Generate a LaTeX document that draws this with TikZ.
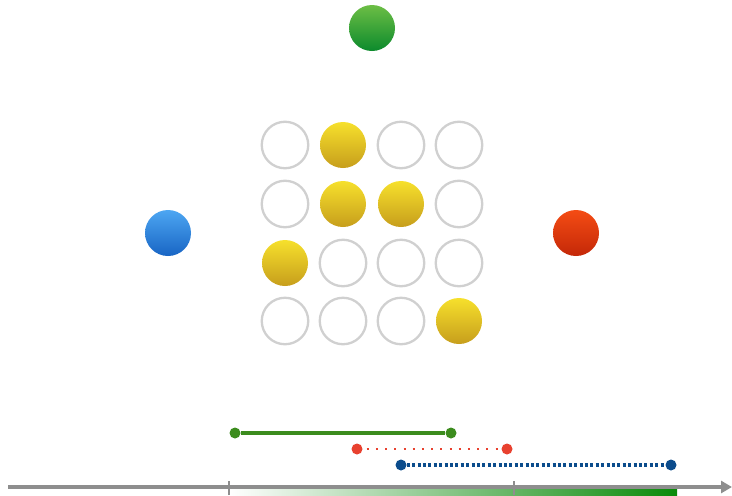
\documentclass[tikz,border=0pt]{standalone}
\usetikzlibrary{arrows.meta}
\definecolor{yelTop}{HTML}{F6E02C}
\definecolor{yelBot}{HTML}{C79E1C}
\definecolor{grnTop}{HTML}{6CBE45}
\definecolor{grnBot}{HTML}{0C8A2C}
\definecolor{bluTop}{HTML}{4DA6F2}
\definecolor{bluBot}{HTML}{1865C4}
\definecolor{redTop}{HTML}{F44C14}
\definecolor{redBot}{HTML}{C42808}
\definecolor{ringGray}{HTML}{D0D0D0}
\definecolor{axisGray}{HTML}{8E8E8E}
\definecolor{segGreen}{HTML}{3C8C1E}
\definecolor{segRed}{HTML}{E8412F}
\definecolor{segBlue}{HTML}{0B4C8C}
\definecolor{barGreen}{HTML}{0A8A0A}
\tikzset{
  ball/.style={circle, minimum size=46pt, inner sep=0pt},
  yball/.style={ball, top color=yelTop, bottom color=yelBot},
  ring/.style={ball, draw=ringGray, line width=2.3pt, fill=white, minimum size=46.5pt},
  enddot/.style={circle, minimum size=11pt, inner sep=0pt},
}
\begin{document}
\begin{tikzpicture}[x=1pt,y=-1pt]
\useasboundingbox (0,0) rectangle (732,496);
% outer balls
\node[ball, top color=grnTop, bottom color=grnBot] (g) at (372,28) {};
\node[ball, top color=bluTop, bottom color=bluBot] (b) at (168,233) {};
\node[ball, top color=redTop, bottom color=redBot] (r) at (576,233) {};
% grid
\node[ring]  (c11) at (285,145) {};
\node[yball] (c12) at (343,145) {};
\node[ring]  (c13) at (401,145) {};
\node[ring]  (c14) at (459,145) {};
\node[ring]  (c21) at (285,204) {};
\node[yball] (c22) at (343,204) {};
\node[yball] (c23) at (401,204) {};
\node[ring]  (c24) at (459,204) {};
\node[yball] (c31) at (285,263) {};
\node[ring]  (c32) at (343,263) {};
\node[ring]  (c33) at (401,263) {};
\node[ring]  (c34) at (459,263) {};
\node[ring]  (c41) at (285,321) {};
\node[ring]  (c42) at (343,321) {};
\node[ring]  (c43) at (401,321) {};
\node[yball] (c44) at (459,321) {};
% gradient bar
\shade[left color=white, right color=barGreen] (230,487) rectangle (677,496);
% axis
\coordinate (axs) at (8,487);
\coordinate (axe) at (732,487);
\draw[axisGray, line width=3.2pt, -{Triangle[length=11pt,width=12pt]}] (axs) -- (axe);
\coordinate (t1) at (229,487);
\coordinate (t2) at (514,487);
\draw[axisGray, line width=2pt] ([yshift=-8pt]t1) -- ([yshift=6pt]t1);
\draw[axisGray, line width=2pt] ([yshift=-8pt]t2) -- ([yshift=6pt]t2);
% segments
\node[enddot, fill=segGreen] (ga) at (235,433) {};
\node[enddot, fill=segGreen] (gb) at (451,433) {};
\draw[segGreen, line width=3.3pt] (ga) -- (gb);
\node[enddot, fill=segRed] (ra) at (357,449) {};
\node[enddot, fill=segRed] (rb) at (507,449) {};
\draw[segRed, line width=2.8pt, dash pattern=on 2pt off 7.2pt] ([xshift=4pt]ra.east) -- (rb.west);
\node[enddot, fill=segBlue] (ba) at (401,465) {};
\node[enddot, fill=segBlue] (bb) at (671,465) {};
\draw[segBlue, line width=3.2pt, dash pattern=on 3pt off 2.4pt] (ba) -- (bb);
\end{tikzpicture}
\end{document}
